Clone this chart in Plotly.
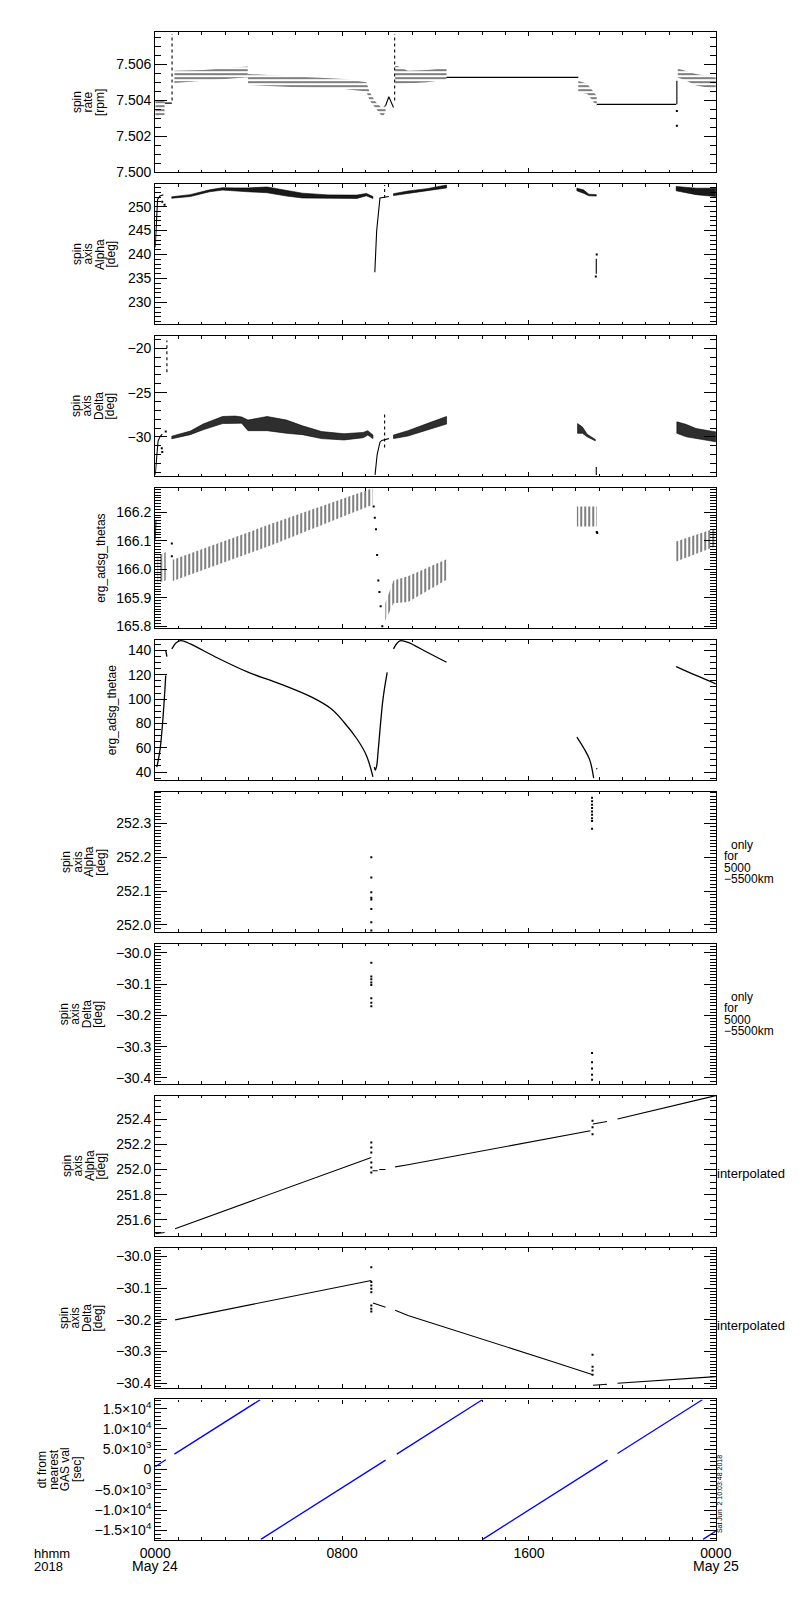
import plotly.graph_objects as go

# time axis in hours from 2018-05-24 00:00
# ---- panel 1: spin rate [rpm]
rate_band_t = [0.0, 0.4, None, 0.82, 2.05, 3.15, 3.84, 3.96, None,
               3.97, 6.03, 8.08, 9.04, 9.18, 9.45, 9.73, 9.86, None,
               10.27, 10.34, 10.82, 11.64, 12.47, None,
               18.11, 18.49, 18.9, None, 22.37, 22.74, 23.15, 24.0]
rate_band_hi = [7.5040, 7.5040, None, 7.50565, 7.50569, 7.5058, 7.50589, 7.50589, None,
                7.50547, 7.50532, 7.50519, 7.50501, 7.50446, 7.5039, 7.50354, 7.50382, None,
                7.5059, 7.50593, 7.50565, 7.50569, 7.5058, None,
                7.5051, 7.50492, 7.50424, None, 7.50578, 7.50565, 7.50547, 7.50528]
rate_band_lo = [7.5031, 7.5032, None, 7.50497, 7.5051, 7.5052, 7.50528, 7.50528, None,
                7.50486, 7.50473, 7.50464, 7.5045, 7.5040, 7.50354, 7.50308, 7.50336, None,
                7.5049, 7.5049, 7.50492, 7.50501, 7.50516, None,
                7.50446, 7.50437, 7.50369, None, 7.50528, 7.5051, 7.50483, 7.50464]
rate_line_t = [0.41, 0.71, None, 9.86, 9.93, 10.0, 10.2, None, 12.47, 18.11, None,
               18.9, 22.3, None, 22.33, 22.33]
rate_line_v = [7.50385, 7.50385, None, 7.5037, 7.5039, 7.5042, 7.5036, None, 7.50528, 7.50528, None,
               7.50378, 7.50378, None, 7.50378, 7.5051]
rate_spike_t = [0.72, 0.72, None, 10.25, 10.25]
rate_spike_v = [7.5040, 7.5077, None, 7.5040, 7.5077]
rate_dot_t = [22.33, 22.33]
rate_dot_v = [7.50341, 7.50259]

# ---- panel 2: spin axis Alpha [deg]
alpha_band_t = [0.71, 1.5, 2.33, 2.88, 3.42, 3.97, 4.79, 5.62, 6.3, 7.4, 8.63, 9.04, 9.32, None,
                10.2, 10.82, 11.64, 12.47, None,
                18.05, 18.33, 18.56, 18.88, None, 22.3, 22.74, 23.15, 24.0]
alpha_band_hi = [252.05, 252.5, 253.5, 253.95, 253.9, 253.9, 254.1, 253.4, 252.8, 252.45, 252.4, 252.75, 252.1, None,
                 252.7, 253.25, 253.75, 254.5, None,
                 253.85, 253.5, 252.6, 252.5, None, 254.2, 254.1, 253.85, 253.85]
alpha_band_lo = [251.75, 252.1, 253.1, 253.45, 253.3, 253.1, 252.9, 252.2, 251.8, 251.7, 251.7, 252.25, 251.7, None,
                 252.3, 252.75, 253.25, 253.9, None,
                 253.3, 252.8, 252.27, 252.2, None, 253.3, 252.9, 252.5, 252.1]
alpha_line_t = [0.0, 0.05, 0.1, 0.2, 0.35, None, 9.4, 9.48, 9.62, 10.0, None, 18.88, 18.88]
alpha_line_v = [241.5, 246.0, 251.5, 252.2, 252.5, None, 236.3, 245.0, 251.8, 252.1, None, 236.0, 239.1]
alpha_spike_t = [9.82, 9.82]
alpha_spike_v = [251.8, 254.5]
alpha_dot_t = [0.3, 0.4, 18.86, 18.9]
alpha_dot_v = [251.0, 250.4, 235.4, 240.0]

# ---- panel 3: spin axis Delta [deg]
delta_band_t = [0.71, 1.5, 2.05, 2.88, 3.42, 3.7, 3.97, 4.79, 5.62, 6.3, 7.12, 8.08, 8.9, 9.1, 9.32, None,
                10.2, 10.82, 11.64, 12.47, None,
                18.08, 18.29, 18.49, 18.84, None, 22.33, 22.74, 23.15, 24.0]
delta_band_hi = [-29.92, -29.35, -28.55, -27.7, -27.65, -27.75, -28.1, -27.7, -28.1, -28.75, -29.4, -29.65, -29.5, -29.3, -29.8, None,
                 -29.8, -29.3, -28.5, -27.7, None,
                 -28.5, -28.9, -29.7, -30.3, None, -28.3, -28.6, -29.06, -29.44]
delta_band_lo = [-30.22, -29.75, -29.2, -28.5, -28.45, -28.45, -29.3, -29.3, -29.6, -29.75, -30.2, -30.35, -30.1, -29.8, -30.2, None,
                 -30.2, -29.9, -29.25, -28.55, None,
                 -29.6, -29.6, -30.0, -30.45, None, -29.6, -30.0, -30.2, -30.56]
delta_line_t = [0.0, 0.05, 0.12, 0.2, 0.3, None, 9.41, 9.5, 9.62, 9.7, 10.0, None, 18.88, 18.88]
delta_line_v = [-34.3, -32.5, -30.5, -30.0, -29.7, None, -34.3, -32.0, -30.6, -30.4, -30.2, None, -34.3, -33.4]
delta_spike_t = [0.5, 0.5, None, 9.82, 9.82]
delta_spike_v = [-22.7, -19.1, None, -31.2, -27.2]
delta_dot_t = [0.28, 0.3, 0.45]
delta_dot_v = [-31.3, -31.7, -29.4]

# ---- panel 4: erg_adsg_thetas
thetas_band_t = [0.1, 0.45, None, 0.75, 5.0, 9.3, None, 9.85, 10.2, 10.82, 12.47, None,
                 18.05, 18.9, None, 22.3, 24.0]
thetas_band_hi = [166.045, 166.06, None, 166.033, 166.16, 166.284, None, 165.88, 165.96, 165.975, 166.035, None,
                  166.22, 166.22, None, 166.097, 166.144]
thetas_band_lo = [165.952, 165.96, None, 165.958, 166.085, 166.226, None, 165.82, 165.88, 165.885, 165.963, None,
                  166.15, 166.15, None, 166.027, 166.08]
thetas_line_t = [0.0, 0.03]
thetas_line_v = [166.103, 166.173]
thetas_dot_t = [0.71, 0.71, 9.35, 9.4, 9.45, 9.5, 9.55, 9.6, 9.65, 9.72, 18.9, 18.92]
thetas_dot_v = [166.09, 166.045, 166.22, 166.18, 166.14, 166.05, 165.96, 165.92, 165.87, 165.80, 166.13, 166.127]

# ---- panel 5: erg_adsg_thetae
thetae_t = [0.07, 0.21, 0.34, 0.45, None, 0.45, 0.5, None,
            0.71, 0.9, 1.1, 1.5, 2.6, 3.97, 5.34, 6.7, 7.53, 8.08, 8.63, 9.04, 9.32, None,
            9.38, 9.42, 9.48, 9.55, 9.75, 9.93, None,
            10.2, 10.35, 10.48, 10.82, 11.64, 12.47, None,
            18.05, 18.36, 18.6, 18.77, None, 18.88, 18.92, None, 22.3, 23.15, 24.0]
thetae_v = [44, 59, 86.6, 119.5, None, 140, 135, None,
            141.4, 146.5, 148.2, 145.5, 134.5, 122.2, 112.6, 101.6, 92, 81, 67.4, 53.7, 36, None,
            44, 41.5, 45, 59, 100, 122, None,
            141.4, 146, 148, 146.8, 138.6, 130.4, None,
            68.8, 59.2, 50, 35, None, 43, 42.5, None, 126.8, 119.5, 112.6]

# ---- panel 6/7: spin axis only for 5000-5500 km
alpha_r_t = [9.25] * 8 + [18.70] * 9
alpha_r_v = [252.2, 252.14, 252.096, 252.08, 252.075, 252.047, 252.008, 251.983,
             252.375, 252.365, 252.355, 252.345, 252.335, 252.325, 252.315, 252.307, 252.284]
delta_r_t = [9.25] * 8 + [18.70] * 5
delta_r_v = [-30.032, -30.076, -30.085, -30.095, -30.103, -30.145, -30.16, -30.171,
             -30.32, -30.35, -30.37, -30.39, -30.406]

# ---- panel 8/9: interpolated spin axis
alpha_i_t = [0.0, 0.4, None, 0.85, 9.25, None, 9.3, 9.52, None, 9.59, 9.86, None,
             10.27, 10.82, 18.63, None, 18.73, 19.34, None, 19.79, 24.0]
alpha_i_v = [251.49, 251.5, None, 251.53, 252.095, None, 251.99, 251.99, None, 252.0, 252.0, None,
             252.02, 252.037, 252.307, None, 252.36, 252.38, None, 252.4, 252.586]
alpha_i_dot_t = [9.25] * 6 + [18.72] * 3
alpha_i_dot_v = [252.214, 252.175, 252.135, 252.055, 252.015, 251.976, 252.387, 252.334, 252.28]
delta_i_t = [0.0, 0.27, None, 0.85, 9.25, None, 9.32, 9.86, None,
             10.27, 10.82, 16.99, 18.7, None, 18.74, 19.34, None, 19.79, 24.0]
delta_i_v = [-30.21, -30.205, None, -30.2, -30.076, None, -30.147, -30.16, None,
             -30.17, -30.186, -30.331, -30.372, None, -30.406, -30.403, None, -30.4, -30.379]
delta_i_dot_t = [9.25] * 8 + [18.72] * 4
delta_i_dot_v = [-30.034, -30.081, -30.092, -30.102, -30.113, -30.155, -30.165, -30.174,
                 -30.31, -30.348, -30.36, -30.373]

# ---- panel 10: dt from nearest GAS val [sec]
dt_t = [0.0, 0.45, None, 0.82, 4.49, None, 4.52, 9.86, None, 10.34, 14.0, None,
        14.02, 19.36, None, 19.79, 23.42, None, 23.45, 24.0]
dt_v = [690, 2400, None, 3800, 17200, None, -17200, 2330, None, 3800, 17200, None,
        -17200, 2330, None, 3950, 17200, None, -17200, -15170]

# axis settings per panel
y_ranges = [[7.49999, 7.5078], [225.45, 254.7], [-34.45, -18.6], [165.793, 166.285], [33.4, 148.8],
            [251.979, 252.393], [-30.419, -29.971], [251.473, 252.586], [-30.414, -29.972], [-17280, 17280]]
y_dticks = [0.002, 5, 5, 0.1, 20, 0.1, 0.1, 0.2, 0.1, None]
y_tick0 = [7.5, 0, 0, 0, 0, 0, -30, 0, -30, None]
y_minor = [0.0005, 1, 1, 0.01, 5, 0.01, 0.01, 0.05, 0.01, 1000]
y_formats = [".3f", "d", "d", ".1f", "d", ".1f", ".1f", ".1f", ".1f", None]
dt_tickvals = [-15000, -10000, -5000, 0, 5000, 10000, 15000]
dt_ticktext = ["\u22121.5\u00d710<sup>4</sup>", "\u22121.0\u00d710<sup>4</sup>", "\u22125.0\u00d710<sup>3</sup>", "0",
               "5.0\u00d710<sup>3</sup>", "1.0\u00d710<sup>4</sup>", "1.5\u00d710<sup>4</sup>"]
x_tickvals = [0, 8, 16, 24]
x_ticktext = ["0000", "0800", "1600", "0000"]

titles = [["spin", "rate", "[rpm]"], ["spin", "axis", "Alpha", "[deg]"], ["spin", "axis", "Delta", "[deg]"],
          ["erg_adsg_thetas"], ["erg_adsg_thetae"], ["spin", "axis", "Alpha", "[deg]"],
          ["spin", "axis", "Delta", "[deg]"], ["spin", "axis", "Alpha", "[deg]"],
          ["spin", "axis", "Delta", "[deg]"], ["dt from", "nearest", "GAS val", "[sec]"]]
title_x = [67, 73, 72, 80, 92, 62, 59, 62, 59, 36.5]

W, H = 800, 1600
FONT = "Liberation Sans"
X0, X1 = 136.7, 720.7
PITCH, PH, TOP0 = 152.78, 141.0, 23.3


def band_polygon(t, lo, hi):
    xs, ys = [], []
    st, sl, sh = [], [], []
    for a, b, c in zip(t + [None], lo + [None], hi + [None]):
        if a is None:
            if st:
                xs += st + st[::-1] + [st[0], None]
                ys += sh + sl[::-1] + [sh[0], None]
            st, sl, sh = [], [], []
        else:
            st.append(a)
            sl.append(b)
            sh.append(c)
    return xs, ys


fig = go.Figure()


def ax(i):
    return ("x" if i == 0 else "x%d" % (i + 1)), ("y" if i == 0 else "y%d" % (i + 1))


def add_band(i, t, lo, hi, shape=None, size=3, solidity=0.5, color="rgba(0,0,0,0)", edge=0):
    xa, ya = ax(i)
    xs, ys = band_polygon(t, lo, hi)
    kw = {}
    if shape:
        kw["fillpattern"] = dict(shape=shape, fgcolor="black", bgcolor="rgba(0,0,0,0)",
                                 size=size, solidity=solidity)
    fig.add_trace(go.Scatter(x=xs, y=ys, xaxis=xa, yaxis=ya, mode="lines", fill="toself",
                             line=dict(width=edge, color="black"), fillcolor=color,
                             hoverinfo="skip", **kw))


def add_line(i, t, v, color="black", width=1.1, dash="solid", shape="linear"):
    xa, ya = ax(i)
    fig.add_trace(go.Scatter(x=t, y=v, xaxis=xa, yaxis=ya, mode="lines",
                             line=dict(color=color, width=width, dash=dash, shape=shape)))


def add_dots(i, t, v):
    xa, ya = ax(i)
    fig.add_trace(go.Scatter(x=t, y=v, xaxis=xa, yaxis=ya, mode="markers",
                             marker=dict(color="black", size=2, symbol="square")))


add_band(0, rate_band_t, rate_band_lo, rate_band_hi, "-", 4, 0.5)
add_line(0, rate_line_t, rate_line_v)
add_line(0, rate_spike_t, rate_spike_v, dash="dot")
add_dots(0, rate_dot_t, rate_dot_v)

add_band(1, alpha_band_t, alpha_band_lo, alpha_band_hi, color="rgba(0,0,0,0.9)", edge=0.6)
add_line(1, alpha_line_t, alpha_line_v)
add_line(1, alpha_spike_t, alpha_spike_v, dash="dot")
add_dots(1, alpha_dot_t, alpha_dot_v)

add_band(2, delta_band_t, delta_band_lo, delta_band_hi, color="rgba(0,0,0,0.82)", edge=0.6)
add_line(2, delta_line_t, delta_line_v)
add_line(2, delta_spike_t, delta_spike_v, dash="dot")
add_dots(2, delta_dot_t, delta_dot_v)

add_band(3, thetas_band_t, thetas_band_lo, thetas_band_hi, "|", 4, 0.5)
add_line(3, thetas_line_t, thetas_line_v)
add_dots(3, thetas_dot_t, thetas_dot_v)

add_line(4, thetae_t, thetae_v, width=1.3, shape="spline")

add_dots(5, alpha_r_t, alpha_r_v)
add_dots(6, delta_r_t, delta_r_v)

add_line(7, alpha_i_t, alpha_i_v)
add_dots(7, alpha_i_dot_t, alpha_i_dot_v)
add_line(8, delta_i_t, delta_i_v)
add_dots(8, delta_i_dot_t, delta_i_dot_v)

add_line(9, dt_t, dt_v, color="#0000ff", width=1.3)

layout = dict(width=W, height=H, margin=dict(l=0, r=0, t=0, b=0), showlegend=False,
              plot_bgcolor="white", paper_bgcolor="white",
              font=dict(family=FONT, size=14, color="black"))
annotations = []

for i in range(10):
    top = TOP0 + i * PITCH
    bot = top + PH
    xname = "xaxis" if i == 0 else "xaxis%d" % (i + 1)
    yname = "yaxis" if i == 0 else "yaxis%d" % (i + 1)
    xa, ya = ax(i)
    layout[xname] = dict(domain=[X0 / W, X1 / W], range=[0, 24], anchor=ya,
                         showline=True, linecolor="black", linewidth=1.2, mirror="allticks",
                         ticks="inside", ticklen=4, tickcolor="black", showgrid=False, zeroline=False,
                         tickmode="array", tickvals=x_tickvals, ticktext=x_ticktext,
                         showticklabels=(i == 9),
                         minor=dict(ticks="inside", ticklen=2.5, dtick=1, tick0=0, tickcolor="black"))
    yax = dict(domain=[1 - bot / H, 1 - top / H], range=y_ranges[i], anchor=xa,
               showline=True, linecolor="black", linewidth=1.2, mirror="allticks",
               ticks="inside", ticklen=12, tickcolor="black", showgrid=False, zeroline=False,
               minor=dict(ticks="inside", ticklen=6, dtick=y_minor[i], tickcolor="black"))
    if y_dticks[i] is None:
        yax.update(tickmode="array", tickvals=dt_tickvals, ticktext=dt_ticktext)
    else:
        yax.update(tickmode="linear", tick0=y_tick0[i], dtick=y_dticks[i], tickformat=y_formats[i])
    layout[yname] = yax

    # stacked rotated y title, one line per annotation to keep tight spacing
    lines = titles[i]
    yc = (top + bot) / 2
    for k, txt in enumerate(lines):
        off = (k - (len(lines) - 1) / 2) * 12
        annotations.append(dict(text=txt, x=(title_x[i] + off) / W, y=1 - yc / H, xref="paper", yref="paper",
                                textangle=-90, showarrow=False, xanchor="center", yanchor="middle",
                                font=dict(size=12)))

    if i in (5, 6):
        for k, txt in enumerate(["only", "for", "5000", "\u22125500km"]):
            annotations.append(dict(text=txt, x=(734 if k == 0 else 727) / W,
                                    y=1 - (yc + (k - 1.5) * 11.5) / H, xref="paper", yref="paper",
                                    showarrow=False, xanchor="left", yanchor="middle", font=dict(size=12)))
    if i in (7, 8):
        annotations.append(dict(text="interpolated", x=720 / W, y=1 - (yc + 8) / H, xref="paper", yref="paper",
                                showarrow=False, xanchor="left", yanchor="middle", font=dict(size=13)))

# date line under the bottom axis
annotations.append(dict(text="May 24", x=0, y=1 - 1566 / H, xref="x10", yref="paper",
                        showarrow=False, xanchor="center", yanchor="middle"))
annotations.append(dict(text="May 25", x=24, y=1 - 1566 / H, xref="x10", yref="paper",
                        showarrow=False, xanchor="center", yanchor="middle"))
annotations.append(dict(text="hhmm", x=8 / W, y=1 - 1553 / H, xref="paper", yref="paper",
                        showarrow=False, xanchor="left", yanchor="middle", font=dict(size=13)))
annotations.append(dict(text="2018", x=8 / W, y=1 - 1566 / H, xref="paper", yref="paper",
                        showarrow=False, xanchor="left", yanchor="middle", font=dict(size=13)))
annotations.append(dict(text="Sat Jun  2 10:03:48 2018", x=724.5 / W, y=1 - 1494 / H, xref="paper", yref="paper",
                        textangle=-90, showarrow=False, xanchor="center", yanchor="middle",
                        font=dict(size=7)))

layout["annotations"] = annotations
fig.update_layout(**layout)
fig.write_html("out.html")
